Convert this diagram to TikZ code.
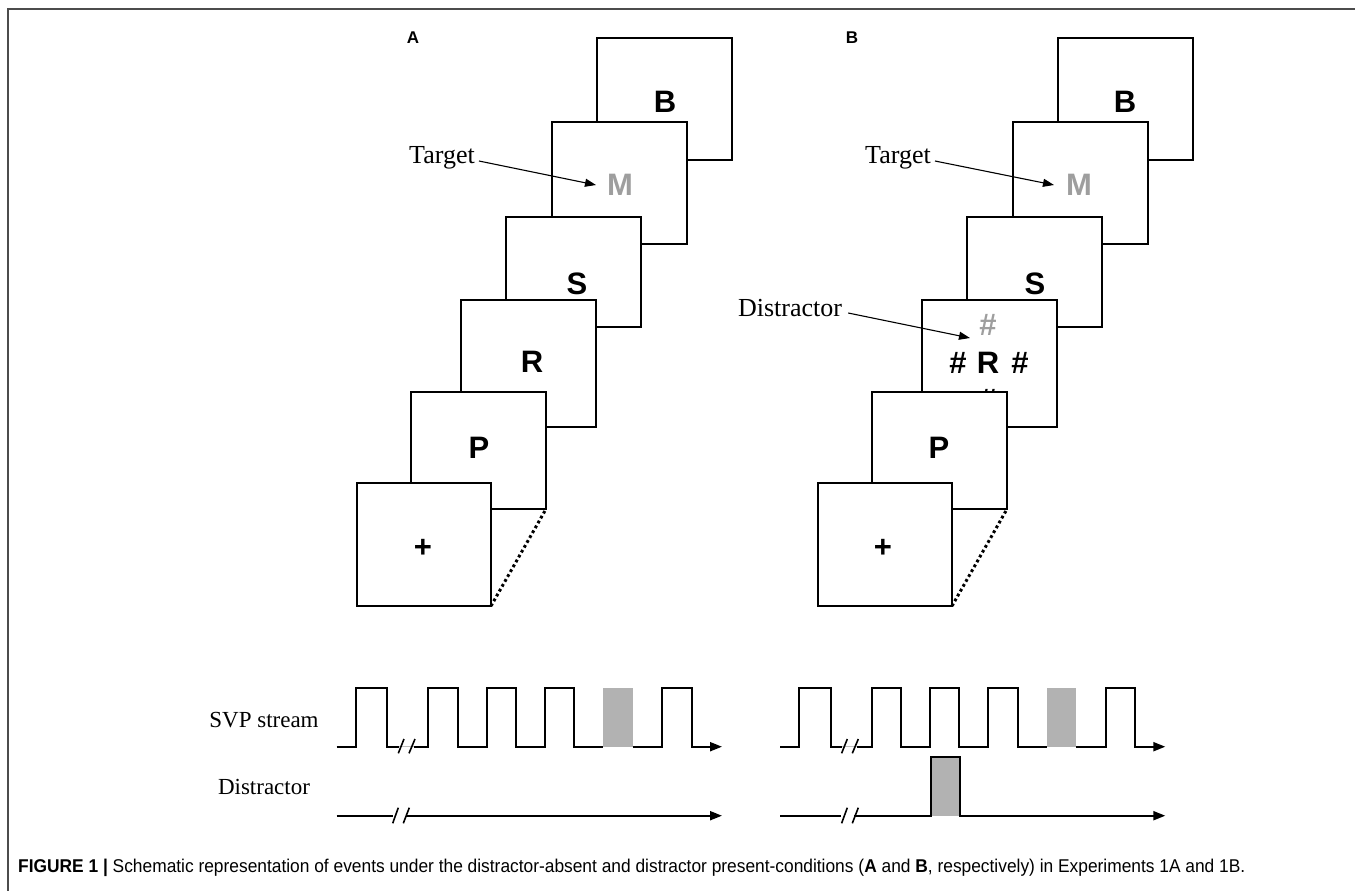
\documentclass[tikz,border=0pt]{standalone}
\usepackage{graphicx}
\usepackage{fontspec}
\setmainfont{Liberation Serif}
\newfontfamily\arialf{Liberation Sans}
\usetikzlibrary{arrows.meta}
\definecolor{stimgray}{gray}{0.62}
\definecolor{fillgray}{gray}{0.70}
\definecolor{bordergray}{gray}{0.30}
\tikzset{
  frm/.style={draw=black, line width=1.5pt, fill=white, anchor=north west, inner sep=0pt, outer sep=0pt},
  letter/.style={font=\arialf\bfseries\fontsize{31}{31}\selectfont, inner sep=0pt},
  grayletter/.style={letter, text=stimgray},
  plab/.style={font=\arialf\bfseries\fontsize{17}{17}\selectfont, inner sep=0pt},
  lab/.style={font=\fontsize{26}{26}\selectfont, inner sep=0pt},
  slab/.style={font=\fontsize{23}{23}\selectfont, inner sep=0pt},
  pointer/.style={line width=1.1pt, -{Triangle[length=11pt,width=8pt]}},
  wave/.style={line width=2pt, line join=miter},
  timearrow/.style={wave, -{Triangle[length=12pt,width=9pt]}},
  brk/.style={line width=1.6pt},
  gapline/.style={line width=0.8pt, draw=gray!50},
  dots/.style={line width=3pt, dash pattern=on 2.8pt off 2.8pt},
}
\newcommand{\frmnode}[5]{\node[frm, minimum width={#4-#2}, minimum height={#5-#3}] (#1) at (#2,#3) {};}
\begin{document}
\begin{tikzpicture}[x=1pt,y=-1pt]
\useasboundingbox (0,0) rectangle (1355,891);
% outer frame
\draw[bordergray, line width=2pt] (8,891) -- (8,9) -- (1355,9);
% ===== Panel A =====
\node[plab] (labA) at (413,38) {A};
\frmnode{BA}{597}{38}{732}{160}
\node[letter] (lBA) at (665,102) {B};
\frmnode{MA}{552}{122}{687}{244}
\node[grayletter] (lMA) at (620,185) {M};
\frmnode{SA}{506}{217}{641}{327}
\node[letter] (lSA) at (577,284) {S};
\frmnode{RA}{461}{300}{596}{427}
\node[letter] (lRA) at (532,362) {R};
\frmnode{PA}{411}{392}{546}{509}
\node[letter] (lPA) at (479,448) {P};
\frmnode{XA}{357}{483}{491}{606}
\node[letter] (lXA) at (423,548) {+};
\draw[dots] (XA.south east) -- (PA.south east);
\node[lab] (tgA) at (442,158) {Target};
\coordinate (tgAtip) at (596,185);
\draw[pointer] (tgA.east) ++(4,3) -- (tgAtip);
% ===== Panel B =====
\node[plab] (labB) at (852,38) {B};
\frmnode{BB}{1058}{38}{1193}{160}
\node[letter] (lBB) at (1125,102) {B};
\frmnode{MB}{1013}{122}{1148}{244}
\node[grayletter] (lMB) at (1079,185) {M};
\frmnode{SB}{967}{217}{1102}{327}
\node[letter] (lSB) at (1035,284) {S};
\frmnode{RB}{922}{300}{1057}{427}
\node[grayletter] (hg) at (988,325) {\#};
\node[letter] (hl) at (958,363) {\#};
\node[letter] (lRB) at (988,363) {R};
\node[letter] (hr) at (1020,363) {\#};
\node[letter] (hb) at (988,400) {\#};
\frmnode{PB}{872}{392}{1007}{509}
\node[letter] (lPB) at (939,448) {P};
\frmnode{XB}{818}{483}{952}{606}
\node[letter] (lXB) at (883,548) {+};
\draw[dots] (XB.south east) -- (PB.south east);
\node[lab] (tgB) at (898,158) {Target};
\coordinate (tgBtip) at (1054,185);
\draw[pointer] (tgB.east) ++(4,3) -- (tgBtip);
\node[lab] (dsB) at (790,308) {Distractor};
\coordinate (dsBtip) at (970,338);
\draw[pointer] (dsB.east) ++(6,5) -- (dsBtip);
% ===== Time lines =====
\node[slab] (svp) at (264,720) {SVP stream};
\node[slab] (dis) at (264,787) {Distractor};
% Panel A SVP
\fill[fillgray] (603.3,746.7) rectangle (632.7,687.7);
\draw[wave] (336.7,746.7) -- (356,746.7) -- (356,687.7) -- (387.3,687.7) -- (387.3,746.7) -- (399,746.7);
\draw[gapline] (399,746.7) -- (414,746.7);
\draw[brk] (398.3,753.3) -- (404,739) (409,753.3) -- (415,739);
\draw[wave] (414,746.7) -- (428.3,746.7) -- (428.3,687.7) -- (457.7,687.7) -- (457.7,746.7) -- (486.7,746.7) -- (486.7,687.7) -- (516,687.7) -- (516,746.7) -- (545,746.7) -- (545,687.7) -- (574.3,687.7) -- (574.3,746.7) -- (603.3,746.7);
\coordinate (svpAend) at (722,746.7);
\draw[timearrow] (632.7,746.7) -- (662.3,746.7) -- (662.3,687.7) -- (691.7,687.7) -- (691.7,746.7) -- (svpAend);
% Panel A distractor
\coordinate (disAend) at (722,815.7);
\draw[wave] (336.7,815.7) -- (393,815.7);
\draw[brk] (392.7,823.3) -- (398.3,807.7) (403.3,823.3) -- (409.3,807.7);
\draw[timearrow] (406,815.7) -- (disAend);
% Panel B SVP
\begin{scope}[xshift=443.3pt]
\fill[fillgray] (603.3,746.7) rectangle (632.7,687.7);
\draw[wave] (336.7,746.7) -- (356,746.7) -- (356,687.7) -- (387.3,687.7) -- (387.3,746.7) -- (399,746.7);
\draw[gapline] (399,746.7) -- (414,746.7);
\draw[brk] (398.3,753.3) -- (404,739) (409,753.3) -- (415,739);
\draw[wave] (414,746.7) -- (428.3,746.7) -- (428.3,687.7) -- (457.7,687.7) -- (457.7,746.7) -- (486.7,746.7) -- (486.7,687.7) -- (516,687.7) -- (516,746.7) -- (545,746.7) -- (545,687.7) -- (574.3,687.7) -- (574.3,746.7) -- (603.3,746.7);
\coordinate (svpBend) at (722,746.7);
\draw[timearrow] (632.7,746.7) -- (662.3,746.7) -- (662.3,687.7) -- (691.7,687.7) -- (691.7,746.7) -- (svpBend);
% Panel B distractor
\coordinate (disBend) at (722,815.7);
\draw[wave] (336.7,815.7) -- (398,815.7);
\draw[brk] (398.3,823.3) -- (404,807.7) (409,823.3) -- (415,807.7);
\fill[fillgray] (487.4,815.7) rectangle (516.7,756.7);
\draw[timearrow] (411,815.7) -- (487.4,815.7) -- (487.4,756.7) -- (516.7,756.7) -- (516.7,815.7) -- (disBend);
\end{scope}
% caption
\node[anchor=base west, inner sep=0pt] (cap) at (18,872) {\resizebox{1227pt}{\height}{\arialf\fontsize{18.5}{18.5}\selectfont\textbf{FIGURE 1 |} Schematic representation of events under the distractor-absent and distractor present-conditions (\textbf{A} and \textbf{B}, respectively) in Experiments 1A and 1B.}};
\end{tikzpicture}
\end{document}
